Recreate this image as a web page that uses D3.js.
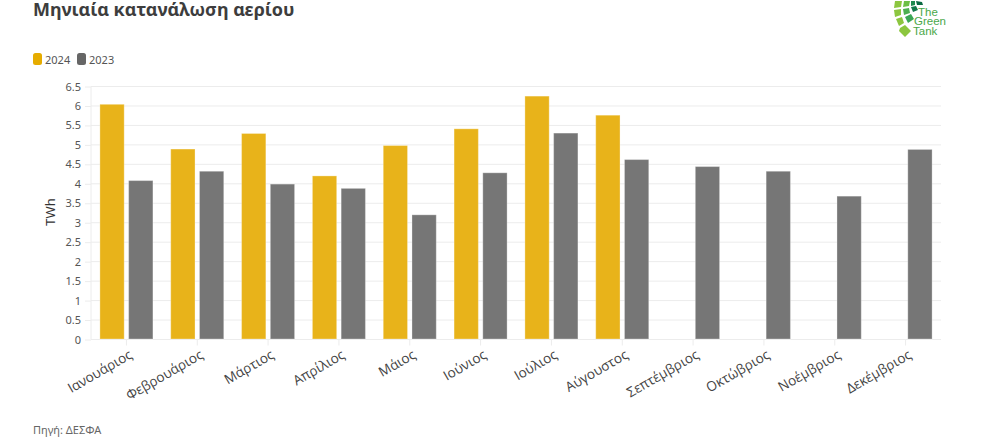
<!DOCTYPE html>
<html>
<head>
<meta charset="utf-8">
<script src="https://cdn.jsdelivr.net/npm/d3@7"></script>
<style>
body { margin: 0; background: #fff; overflow: hidden; }
text { font-family: "Noto Sans", sans-serif; }
</style>
</head>
<body>
<div id="chart"></div>
<script>
const WIDTH = 981;
const HEIGHT = 446;

const months = ["Ιανουάριος", "Φεβρουάριος", "Μάρτιος", "Απρίλιος", "Μάιος", "Ιούνιος",
    "Ιούλιος", "Αύγουστος", "Σεπτέμβριος", "Οκτώβριος", "Νοέμβριος", "Δεκέμβριος"];
const years = ["2024", "2023"];
const values2024 = [6.03, 4.88, 5.28, 4.19, 4.97, 5.40, 6.24, 5.75, null, null, null, null];
const values2023 = [4.07, 4.31, 3.98, 3.87, 3.19, 4.27, 5.29, 4.61, 4.43, 4.31, 3.67, 4.87];
const yTicks = [0, 0.5, 1, 1.5, 2, 2.5, 3, 3.5, 4, 4.5, 5, 5.5, 6, 6.5];

const barColors = { "2024": "#e8b31a", "2023": "#767676" };
const legendColors = { "2024": "#e6ac00", "2023": "#666666" };

const svg = d3.select("#chart")
    .append("svg")
    .attr("width", WIDTH)
    .attr("height", HEIGHT);

// === SCALES ===
const x = d3.scaleBand().domain(months).range([91, 941]);
const y = d3.scaleLinear().domain([0, 6.5]).range([339, 86]);
const x1 = d3.scaleBand().domain(years).range([0, x.bandwidth()]).paddingInner(0.155).paddingOuter(0.31);

// === GRID + AXES ===
svg.append("g")
    .selectAll("line")
    .data(yTicks)
    .enter()
    .append("line")
    .attr("x1", 91)
    .attr("x2", 941)
    .attr("y1", d => y(d) + 0.5)
    .attr("y2", d => y(d) + 0.5)
    .attr("stroke", "#ececec");

const yAxis = svg.append("g")
    .attr("transform", "translate(91,0.5)")
    .call(d3.axisLeft(y).tickValues(yTicks).tickFormat(d => d).tickSize(6).tickPadding(4));
yAxis.select(".domain").attr("stroke", "#ececec").attr("d", "M0,86V339");
yAxis.selectAll(".tick line").attr("stroke", "#ececec");
yAxis.selectAll("text")
    .attr("fill", "#555")
    .style("font-size", "11px")
    .style("font-family", '"Noto Sans", sans-serif');

const xAxis = svg.append("g")
    .attr("transform", "translate(0,339.5)")
    .call(d3.axisBottom(x).tickSize(6));
xAxis.select(".domain").remove();
xAxis.selectAll(".tick line").attr("stroke", "#ececec");
xAxis.selectAll("text")
    .attr("fill", "#444")
    .attr("text-anchor", "end")
    .attr("transform", "translate(0,6) rotate(-30)")
    .attr("dy", "0.35em")
    .style("font-size", "13.6px")
    .style("font-family", '"Open Sans", sans-serif');

// === BARS ===
const series = [
    { year: "2024", values: values2024 },
    { year: "2023", values: values2023 }
];
series.forEach(s => {
    svg.append("g")
        .selectAll("rect")
        .data(s.values.map((v, i) => ({ month: months[i], v })).filter(d => d.v !== null))
        .enter()
        .append("rect")
        .attr("x", d => x(d.month) + x1(s.year))
        .attr("y", d => y(d.v))
        .attr("width", x1.bandwidth())
        .attr("height", d => y(0) - y(d.v))
        .attr("fill", barColors[s.year])
        .attr("stroke", "#fff")
        .attr("stroke-opacity", 0.3);
});

// === TITLE, LEGEND, SOURCE ===
svg.append("text")
    .attr("x", 33)
    .attr("y", 16)
    .attr("fill", "#3d3d3d")
    .style("font-size", "18px")
    .style("font-weight", 700)
    .text("Μηνιαία κατανάλωση αερίου");

const legend = svg.append("g")
    .selectAll("g")
    .data(years)
    .enter()
    .append("g")
    .attr("transform", (d, i) => `translate(${33 + i * 44},53)`);
legend.append("rect")
    .attr("width", 9)
    .attr("height", 12)
    .attr("rx", 2.5)
    .attr("fill", d => legendColors[d]);
legend.append("text")
    .attr("x", 12)
    .attr("y", 10.5)
    .attr("fill", "#555")
    .style("font-size", "11px")
    .text(d => d);

svg.append("text")
    .attr("transform", "translate(55,212) rotate(-90)")
    .attr("text-anchor", "middle")
    .attr("fill", "#333")
    .style("font-size", "13px")
    .text("TWh");

svg.append("text")
    .attr("x", 33)
    .attr("y", 434)
    .attr("fill", "#666")
    .style("font-size", "11px")
    .text("Πηγή: ΔΕΣΦΑ");

// === LOGO ===
const logo = svg.append("g").attr("transform", "translate(892,0)");
const logoBlocks = [
    ["M3,1 L10,1 L9,7 L2,8 Z", "#8cc63f"],
    ["M2,10 L9,9 L9,15 L3,17 Z", "#8cc63f"],
    ["M4,19 L10,17 L12,23 L7,26 Z", "#8cc63f"],
    ["M8,28 L13,25 L19,31 L13,37 L7,31 Z", "#8cc63f"],
    ["M12,1 L18,1 L17,6 L11,7 Z", "#6cbf45"],
    ["M11,9 L17,8 L18,13 L12,15 Z", "#4cb050"],
    ["M13,17 L19,14 L22,19 L16,23 Z", "#3aa655"],
    ["M19,1 L23,1 L23,5 L19,6 Z", "#1f8a50"],
    ["M19,7 L24,6 L26,10 L21,12 Z", "#12784a"],
    ["M24,1 L30,2 L31,5 L25,5 Z", "#0b6a44"]
];
logo.selectAll("path")
    .data(logoBlocks)
    .enter()
    .append("path")
    .attr("d", d => d[0])
    .attr("fill", d => d[1]);
logo.selectAll("text")
    .data(["The", "Green", "Tank"])
    .enter()
    .append("text")
    .attr("x", d => d === "The" ? 26 : d === "Green" ? 22 : 21)
    .attr("y", (d, i) => 16 + i * 9.3)
    .attr("fill", "#4aa84a")
    .style("font-size", "11.5px")
    .style("font-family", '"Liberation Sans Narrow", "Liberation Sans", sans-serif')
    .text(d => d);
</script>
</body>
</html>
